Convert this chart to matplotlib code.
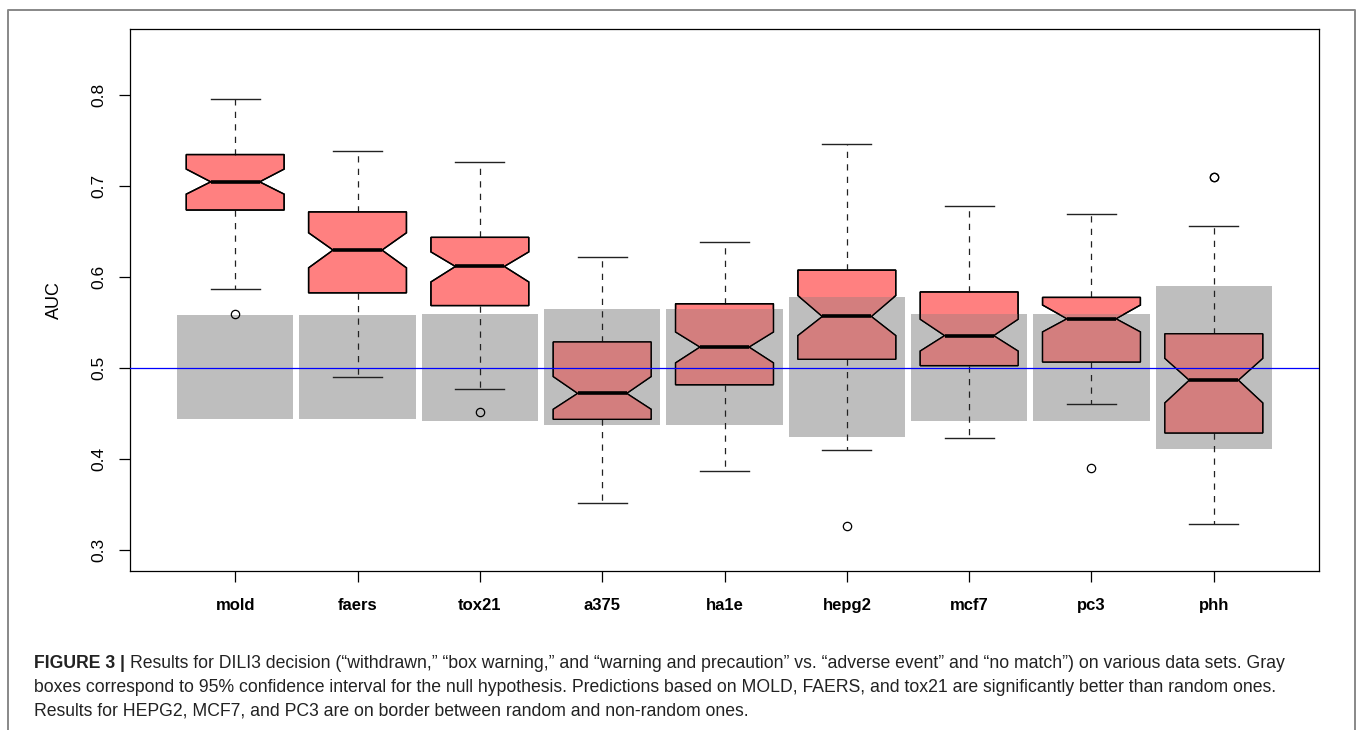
import matplotlib
matplotlib.use("Agg")
import matplotlib.pyplot as plt
from matplotlib.patches import Rectangle, PathPatch
from matplotlib.lines import Line2D

plt.rcParams['font.family'] = ['Liberation Sans', 'DejaVu Sans']

categories = ["mold", "faers", "tox21", "a375", "ha1e", "hepg2", "mcf7", "pc3", "phh"]
whisker_lo = [0.587, 0.490, 0.477, 0.352, 0.387, 0.410, 0.423, 0.461, 0.329]
q1         = [0.674, 0.583, 0.569, 0.444, 0.482, 0.510, 0.503, 0.507, 0.429]
notch_lo   = [0.6915, 0.6105, 0.595, 0.455, 0.506, 0.536, 0.519, 0.540, 0.462]
median     = [0.705, 0.630, 0.612, 0.4725, 0.5234, 0.557, 0.536, 0.5545, 0.487]
notch_hi   = [0.719, 0.649, 0.628, 0.491, 0.540, 0.580, 0.554, 0.5696, 0.511]
q3         = [0.735, 0.672, 0.644, 0.529, 0.571, 0.608, 0.584, 0.578, 0.538]
whisker_hi = [0.796, 0.739, 0.727, 0.622, 0.639, 0.7465, 0.678, 0.670, 0.657]
outliers   = [[0.560], [], [0.452], [], [], [0.327], [], [0.391], [0.7099, 0.7106]]
null_lo    = [0.444, 0.444, 0.4424, 0.4374, 0.4374, 0.4248, 0.4424, 0.4424, 0.411]
null_hi    = [0.5586, 0.5586, 0.560, 0.565, 0.565, 0.5787, 0.5593, 0.5593, 0.591]
yticks = [0.3, 0.4, 0.5, 0.6, 0.7, 0.8]
ref_line = 0.5

caption_bold = "FIGURE 3 | "
caption_lines = [
    "Results for DILI3 decision (\u201cwithdrawn,\u201d \u201cbox warning,\u201d and \u201cwarning and precaution\u201d vs. \u201cadverse event\u201d and \u201cno match\u201d) on various data sets. Gray",
    "boxes correspond to 95% confidence interval for the null hypothesis. Predictions based on MOLD, FAERS, and tox21 are significantly better than random ones.",
    "Results for HEPG2, MCF7, and PC3 are on border between random and non-random ones.",
]

W, H = 1358, 730
fig = plt.figure(figsize=(W / 100, H / 100), dpi=100)
ax = fig.add_axes([130 / W, 1 - 570.7 / H, (1319 - 130) / W, (570.7 - 29) / H])

pink = '#FF8080'
overlap = '#D37E7E'
gray = '#BEBEBE'
positions = list(range(1, len(categories) + 1))

# null hypothesis gray boxes
for p, lo, hi in zip(positions, null_lo, null_hi):
    ax.add_patch(Rectangle((p - 0.475, lo), 0.95, hi - lo, facecolor=gray,
                           edgecolor='none', zorder=1))

stats = []
for i, c in enumerate(categories):
    stats.append(dict(label=c, whislo=whisker_lo[i], q1=q1[i], med=median[i],
                      q3=q3[i], whishi=whisker_hi[i], cilo=notch_lo[i],
                      cihi=notch_hi[i], fliers=outliers[i]))

bp = ax.bxp(stats, positions=positions, widths=0.8, capwidths=0.4, shownotches=True,
            patch_artist=True, showfliers=True,
            boxprops=dict(facecolor=pink, edgecolor='black', linewidth=1.0, zorder=2),
            medianprops=dict(color='black', linewidth=2.6, solid_capstyle='butt', zorder=2.5),
            whiskerprops=dict(color='#222222', linewidth=0.9, linestyle=(0, (5, 5)), zorder=2),
            capprops=dict(color='#222222', linewidth=1.0, zorder=2),
            flierprops=dict(marker='o', markersize=6, markerfacecolor='none',
                            markeredgecolor='black', markeredgewidth=0.9, zorder=2))

for box, p, lo, hi in zip(bp['boxes'], positions, null_lo, null_hi):
    r = Rectangle((p - 0.475, lo), 0.95, hi - lo, facecolor=overlap,
                  edgecolor='none', zorder=2.1)
    ax.add_patch(r)
    r.set_clip_path(box)
    ax.add_patch(PathPatch(box.get_path(), fill=False, edgecolor='black',
                           linewidth=1.0, zorder=2.2, transform=box.get_transform()))

ax.axhline(ref_line, color='#0000FF', linewidth=0.9, zorder=3)

ax.set_xlim(0.14, 9.86)
ax.set_ylim(0.2776, 0.873)
ax.set_yticks(yticks)
ax.set_yticklabels([f"{t:.1f}" for t in yticks], rotation=90, va='center', fontsize=12.5)
ax.set_xticks(positions)
ax.set_xticklabels(categories, fontsize=12, fontweight='bold')
ax.tick_params(axis='both', length=8, width=0.9, direction='out')
ax.tick_params(axis='y', pad=9)
ax.tick_params(axis='x', pad=12)
for s in ax.spines.values():
    s.set_linewidth(0.9)
ax.set_ylabel("AUC", fontsize=13)
ax.yaxis.set_label_coords((63 - 130) / (1319 - 130), 0.5)

# outer frame
bx = [7.5 / W, 7.5 / W, 1355 / W, 1355 / W]
by = [0, 1 - 10 / H, 1 - 10 / H, 0]
fig.add_artist(Line2D(bx, by, color='#888888', linewidth=1.4, transform=fig.transFigure))

# caption
fs = 12.7
baselines = [668, 692, 716]
t0 = fig.text(34 / W, 1 - baselines[0] / H, caption_bold, fontsize=fs, fontweight='bold',
              va='baseline', ha='left', color='#222222')
fig.canvas.draw()
bb = t0.get_window_extent(renderer=fig.canvas.get_renderer())
fig.text(bb.x1 / W, 1 - baselines[0] / H, caption_lines[0], fontsize=fs,
         va='baseline', ha='left', color='#222222')
for line, b in zip(caption_lines[1:], baselines[1:]):
    fig.text(34 / W, 1 - b / H, line, fontsize=fs, va='baseline', ha='left', color='#222222')

fig.savefig("out.png", dpi=100)
